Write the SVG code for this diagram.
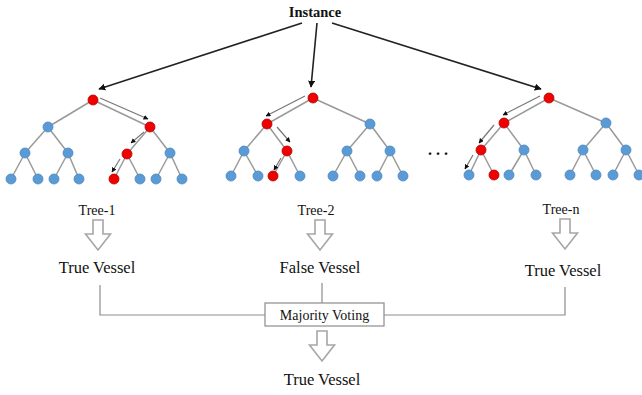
<svg xmlns="http://www.w3.org/2000/svg" width="642" height="395" viewBox="0 0 642 395">
  <defs>
    <marker id="ah" viewBox="0 0 10 10" refX="9" refY="5" markerWidth="7" markerHeight="7" markerUnits="userSpaceOnUse" orient="auto">
      <path d="M0,0 L10,5 L0,10 z" fill="#111"/>
    </marker>
    <marker id="ahs" viewBox="0 0 10 10" refX="9" refY="5" markerWidth="5" markerHeight="5" markerUnits="userSpaceOnUse" orient="auto">
      <path d="M0,0 L10,5 L0,10 z" fill="#111"/>
    </marker>
    <path id="hollow" d="M-5,0 L5,0 L5,14 L12.5,14 L0,30 L-12.5,14 L-5,14 Z"/>
  </defs>
  <style>
    text { font-family: "Liberation Serif", "Times New Roman", serif; fill: #111; }
    .lbl { font-size: 16.5px; text-anchor: middle; }
    .tl { font-size: 14px; text-anchor: middle; }
    .e { stroke: #9a9a9a; stroke-width: 1.5; fill: none; }
    .p { stroke: #777; stroke-width: 1.2; fill: none; marker-end: url(#ahs); }
    .b { fill: #5b9bd5; stroke: #4a88c4; stroke-width: 0.8; }
    .r { fill: #f20000; stroke: #b00000; stroke-width: 0.8; }
    .ha { fill: #fff; stroke: #a6a6a6; stroke-width: 1.6; }
    .ln { stroke: #8c8c8c; stroke-width: 1.2; fill: none; }
  </style>

  <!-- Input and its arrows to the three trees -->
  <g id="instance">
    <text x="315" y="17" font-size="14.5" font-weight="bold" text-anchor="middle">Instance</text>
  </g>
  <g id="connectors">
    <line x1="302" y1="23" x2="99" y2="89" stroke="#222" stroke-width="1.6" marker-end="url(#ah)"/>
    <line x1="317" y1="23" x2="311" y2="87" stroke="#222" stroke-width="1.6" marker-end="url(#ah)"/>
    <line x1="332" y1="23" x2="541" y2="89" stroke="#222" stroke-width="1.6" marker-end="url(#ah)"/>

    <!-- Tree outputs to the voting box -->
    <polyline class="ln" points="100,285 100,315 265,315"/>
    <polyline class="ln" points="565,287 565,315 384,315"/>
    <line class="ln" x1="322" y1="283" x2="322" y2="303"/>
  </g>

  <!-- Tree 1 -->
  <g id="tree-1">
    <g class="e">
      <line x1="93" y1="100" x2="48" y2="127"/><line x1="93" y1="100" x2="150" y2="127"/>
      <line x1="48" y1="127" x2="25" y2="153"/><line x1="48" y1="127" x2="68" y2="153"/>
      <line x1="150" y1="127" x2="127" y2="154"/><line x1="150" y1="127" x2="170" y2="153"/>
      <line x1="25" y1="153" x2="11" y2="179"/><line x1="25" y1="153" x2="38" y2="179"/>
      <line x1="68" y1="153" x2="54" y2="179"/><line x1="68" y1="153" x2="79" y2="179"/>
      <line x1="127" y1="154" x2="114" y2="179"/><line x1="127" y1="154" x2="140" y2="179"/>
      <line x1="170" y1="153" x2="156" y2="179"/><line x1="170" y1="153" x2="182" y2="179"/>
    </g>
    <line class="p" x1="100" y1="98" x2="148" y2="119"/>
    <line class="p" x1="144" y1="132" x2="131" y2="143"/>
    <line class="p" x1="120" y1="159" x2="112" y2="172"/>
    <circle class="r" cx="93" cy="100" r="5"/>
    <circle class="b" cx="48" cy="127" r="5"/><circle class="r" cx="150" cy="127" r="5"/>
    <circle class="b" cx="25" cy="153" r="5"/><circle class="b" cx="68" cy="153" r="5"/>
    <circle class="r" cx="127" cy="154" r="5"/><circle class="b" cx="170" cy="153" r="5"/>
    <circle class="b" cx="11" cy="179" r="5"/><circle class="b" cx="38" cy="179" r="5"/>
    <circle class="b" cx="54" cy="179" r="5"/><circle class="b" cx="79" cy="179" r="5"/>
    <circle class="r" cx="114" cy="179" r="5"/><circle class="b" cx="140" cy="179" r="5"/>
    <circle class="b" cx="156" cy="179" r="5"/><circle class="b" cx="182" cy="179" r="5"/>
    <text class="tl" x="97" y="215">Tree-1</text>
    <use href="#hollow" class="ha" x="98" y="220"/>
    <text class="lbl" x="97" y="273">True Vessel</text>
  </g>

  <!-- Tree 2 -->
  <g id="tree-2">
    <g class="e">
      <line x1="313" y1="98" x2="267" y2="124"/><line x1="313" y1="98" x2="370" y2="124"/>
      <line x1="267" y1="124" x2="244" y2="151"/><line x1="267" y1="124" x2="287" y2="151"/>
      <line x1="370" y1="124" x2="347" y2="151"/><line x1="370" y1="124" x2="390" y2="151"/>
      <line x1="244" y1="151" x2="231" y2="176"/><line x1="244" y1="151" x2="258" y2="176"/>
      <line x1="287" y1="151" x2="273" y2="176"/><line x1="287" y1="151" x2="300" y2="176"/>
      <line x1="347" y1="151" x2="333" y2="176"/><line x1="347" y1="151" x2="360" y2="176"/>
      <line x1="390" y1="151" x2="377" y2="176"/><line x1="390" y1="151" x2="403" y2="176"/>
    </g>
    <line class="p" x1="305" y1="96" x2="266" y2="116"/>
    <line class="p" x1="277" y1="127" x2="290" y2="142"/>
    <line class="p" x1="281" y1="158" x2="274" y2="170"/>
    <circle class="r" cx="313" cy="98" r="5"/>
    <circle class="r" cx="267" cy="124" r="5"/><circle class="b" cx="370" cy="124" r="5"/>
    <circle class="b" cx="244" cy="151" r="5"/><circle class="r" cx="287" cy="151" r="5"/>
    <circle class="b" cx="347" cy="151" r="5"/><circle class="b" cx="390" cy="151" r="5"/>
    <circle class="b" cx="231" cy="176" r="5"/><circle class="b" cx="258" cy="176" r="5"/>
    <circle class="r" cx="273" cy="176" r="5"/><circle class="b" cx="300" cy="176" r="5"/>
    <circle class="b" cx="333" cy="176" r="5"/><circle class="b" cx="360" cy="176" r="5"/>
    <circle class="b" cx="377" cy="176" r="5"/><circle class="b" cx="403" cy="176" r="5"/>
    <text class="tl" x="316" y="215">Tree-2</text>
    <use href="#hollow" class="ha" x="320" y="220"/>
    <text class="lbl" x="320" y="273">False Vessel</text>
  </g>

  <!-- Ellipsis between trees -->
  <g id="ellipsis">
    <text x="438" y="155" font-size="16" font-weight="bold" text-anchor="middle">. . .</text>
  </g>

  <!-- Tree n -->
  <g id="tree-n">
    <g class="e">
      <line x1="549" y1="98" x2="504" y2="123"/><line x1="549" y1="98" x2="606" y2="123"/>
      <line x1="504" y1="123" x2="481" y2="150"/><line x1="504" y1="123" x2="524" y2="150"/>
      <line x1="606" y1="123" x2="583" y2="150"/><line x1="606" y1="123" x2="626" y2="150"/>
      <line x1="481" y1="150" x2="469" y2="175"/><line x1="481" y1="150" x2="494" y2="175"/>
      <line x1="524" y1="150" x2="509" y2="175"/><line x1="524" y1="150" x2="536" y2="175"/>
      <line x1="583" y1="150" x2="570" y2="175"/><line x1="583" y1="150" x2="596" y2="175"/>
      <line x1="626" y1="150" x2="613" y2="175"/><line x1="626" y1="150" x2="639" y2="175"/>
    </g>
    <line class="p" x1="540" y1="96" x2="503" y2="115"/>
    <line class="p" x1="494" y1="125" x2="479" y2="143"/>
    <line class="p" x1="473" y1="155" x2="465" y2="169"/>
    <circle class="r" cx="549" cy="98" r="5"/>
    <circle class="r" cx="504" cy="123" r="5"/><circle class="b" cx="606" cy="123" r="5"/>
    <circle class="r" cx="481" cy="150" r="5"/><circle class="b" cx="524" cy="150" r="5"/>
    <circle class="b" cx="583" cy="150" r="5"/><circle class="b" cx="626" cy="150" r="5"/>
    <circle class="b" cx="469" cy="175" r="5"/><circle class="r" cx="494" cy="175" r="5"/>
    <circle class="b" cx="509" cy="175" r="5"/><circle class="b" cx="536" cy="175" r="5"/>
    <circle class="b" cx="570" cy="175" r="5"/><circle class="b" cx="596" cy="175" r="5"/>
    <circle class="b" cx="613" cy="175" r="5"/><circle class="b" cx="639" cy="175" r="5"/>
    <text class="tl" x="561" y="214">Tree-n</text>
    <use href="#hollow" class="ha" x="565" y="219"/>
    <text class="lbl" x="563" y="276">True Vessel</text>
  </g>

  <!-- Voting and final result -->
  <g id="majority-voting">
    <rect x="265" y="303" width="119" height="23" fill="#fff" stroke="#8c8c8c" stroke-width="1.2"/>
    <text x="324.5" y="320" font-size="14" text-anchor="middle">Majority Voting</text>
  </g>
  <g id="result">
    <use href="#hollow" class="ha" x="322" y="331"/>
    <text class="lbl" x="322" y="385">True Vessel</text>
  </g>
</svg>
